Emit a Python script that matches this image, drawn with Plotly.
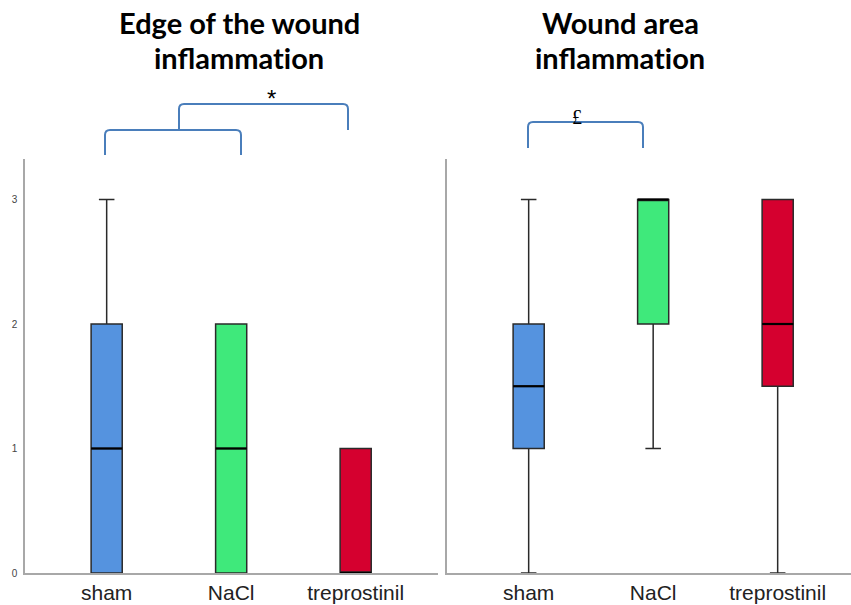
import plotly.graph_objects as go

W, H = 851, 605

# Kategorien und Boxplot-Kennwerte
groups = ["sham", "NaCl", "treprostinil"]
colors = ["#5593DF", "#3FE97B", "#D5002F"]

edge_min = [0, 0, 0]
edge_q1 = [0, 0, 0]
edge_median = [1, 1, 0]
edge_q3 = [2, 2, 1]
edge_max = [3, 2, 1]

area_min = [0, 1, 0]
area_q1 = [1, 2, 1.5]
area_median = [1.5, 3, 2]
area_q3 = [2, 3, 3]
area_max = [3, 3, 3]

y_ticks = [0, 1, 2, 3]
# \u200c verhindert die "ti"-Ligatur von Lato
titles = ["Edge of the wound", "inflammat\u200cion", "Wound area", "inflammat\u200cion"]
sig_labels = ["*", "£"]

BOX_W = 0.25
bracket_col = "#4A7EBB"


def px(x):
    return x / W


def py(y):
    return 1 - y / H


fig = go.Figure()

panels = [
    ("x", "y", edge_min, edge_q1, edge_median, edge_q3, edge_max),
    ("x2", "y2", area_min, area_q1, area_median, area_q3, area_max),
]
for xa, ya, mn, q1, med, q3, mx in panels:
    for i, g in enumerate(groups):
        fig.add_trace(go.Box(
            x=[g], q1=[q1[i]], median=[med[i]], q3=[q3[i]],
            lowerfence=[mn[i]], upperfence=[mx[i]],
            fillcolor=colors[i], line=dict(color="#2a2a2a", width=1.5),
            width=BOX_W, whiskerwidth=0.5, boxpoints=False,
            showlegend=False, hoverinfo="skip", xaxis=xa, yaxis=ya))
        # dickere Medianlinie wie im Original
        fig.add_shape(type="line", xref=xa, yref=ya,
                      x0=i - BOX_W / 2, x1=i + BOX_W / 2, y0=med[i], y1=med[i],
                      line=dict(color="black", width=2.2))

unit = 124.5
axis_common = dict(showline=True, linecolor="#a8a8a8", linewidth=1.5, automargin=False,
                   showgrid=False, zeroline=False, ticks="")
xfont = dict(family="Liberation Sans", size=21, color="#222")
fig.update_layout(
    width=W, height=H, margin=dict(l=0, r=0, t=0, b=0),
    plot_bgcolor="white", paper_bgcolor="white",
    xaxis=dict(domain=[px(25), px(438)], range=[-0.656, -0.656 + 413 / unit],
               type="category", categoryorder="array", categoryarray=groups,
               tickfont=xfont, ticklabelstandoff=0, **axis_common),
    xaxis2=dict(domain=[px(447), 1], range=[-0.656, -0.656 + 404 / unit],
                type="category", categoryorder="array", categoryarray=groups,
                tickfont=xfont, ticklabelstandoff=0, anchor="y2", **axis_common),
    yaxis=dict(domain=[py(573), py(159)], range=[0, 414 / unit],
               tickvals=y_ticks, tickfont=dict(family="Liberation Sans", size=10, color="#444"),
               ticklabelstandoff=4, **axis_common),
    yaxis2=dict(domain=[py(573), py(159)], range=[0, 414 / unit],
                tickvals=y_ticks, showticklabels=False, anchor="x2", **axis_common),
)

# Titel
title_font = dict(family="Lato", size=29, color="black")
for txt, x, y in [(titles[0], 239, 22), (titles[1], 239, 58),
                  (titles[2], 620, 22), (titles[3], 620, 58)]:
    fig.add_annotation(text="<b>" + txt + "</b>", x=px(x), y=py(y), xref="paper", yref="paper",
                       showarrow=False, font=title_font, xanchor="center", yanchor="middle")


def bracket(x0, x1, ytop, yb0, yb1, r=5):
    rx, ry = r / W, r / H
    path = (f"M {px(x0)},{py(yb0)} L {px(x0)},{py(ytop) - ry} "
            f"Q {px(x0)},{py(ytop)} {px(x0) + rx},{py(ytop)} "
            f"L {px(x1) - rx},{py(ytop)} "
            f"Q {px(x1)},{py(ytop)} {px(x1)},{py(ytop) - ry} "
            f"L {px(x1)},{py(yb1)}")
    fig.add_shape(type="path", path=path, xref="paper", yref="paper",
                  line=dict(color=bracket_col, width=2))


bracket(105, 241, 130, 155, 155)
bracket(179, 348, 104, 130, 130)
bracket(528, 643, 122, 148, 148)

fig.add_annotation(text=sig_labels[0], x=px(265), y=py(83), xref="paper", yref="paper",
                   showarrow=False, font=dict(family="Liberation Sans", size=24, color="black"))
fig.add_annotation(text=sig_labels[1], x=px(584), y=py(104), xref="paper", yref="paper",
                   showarrow=False, font=dict(family="Liberation Serif", size=20, color="black"))

fig.write_html("out.html", config={"displayModeBar": False},
               post_script="document.body.style.margin='0';")
